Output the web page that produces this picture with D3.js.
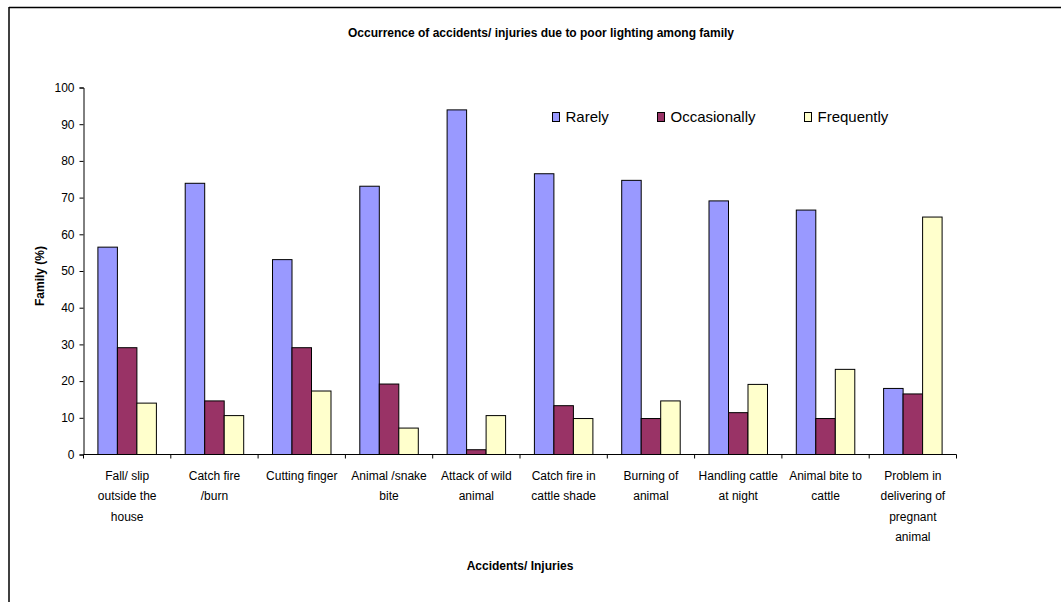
<!DOCTYPE html>
<html><head><meta charset="utf-8">
<script src="https://cdn.jsdelivr.net/npm/d3@7"></script>
<style>
body{margin:0;background:#fff;}
text{font-family:"Liberation Sans Narrow","Liberation Sans",Arial,sans-serif;fill:#000;}
</style></head>
<body>
<svg id="c" width="1061" height="602"></svg>
<script>
const categories = [
  ["Fall/ slip","outside the","house"],
  ["Catch fire","/burn"],
  ["Cutting finger"],
  ["Animal /snake","bite"],
  ["Attack of wild","animal"],
  ["Catch fire in","cattle shade"],
  ["Burning of","animal"],
  ["Handling cattle","at night"],
  ["Animal bite to","cattle"],
  ["Problem in","delivering of","pregnant","animal"]
];
const seriesNames = ["Rarely","Occasionally","Frequently"];
const rarely       = [56.5, 73.9, 53.1, 73.1, 93.9, 76.5, 74.7, 69.1, 66.6, 18.0];
const occasionally = [29.1, 14.6, 29.1, 19.2, 1.3, 13.3, 9.8, 11.4, 9.8, 16.5];
const frequently   = [14.0, 10.6, 17.3, 7.2, 10.6, 9.8, 14.6, 19.1, 23.2, 64.7];
const yTicks = [0,10,20,30,40,50,60,70,80,90,100];
const colors = ["#9999FF","#993366","#FFFFCC"];

(function(){
const svg = d3.select("#c");
svg.append("line").attr("x1",9).attr("x2",1061).attr("y1",7.5).attr("y2",7.5).attr("stroke","#000").attr("stroke-width",1.5);
svg.append("line").attr("x1",9).attr("x2",9).attr("y1",7).attr("y2",602).attr("stroke","#000").attr("stroke-width",1.5);

const pL = 83.5, pR = 956.5, pT = 87.5, pB = 454.5;
const x = d3.scaleBand().domain(d3.range(categories.length)).range([pL,pR]).paddingInner(0.33).paddingOuter(0.165);
const x1 = d3.scaleBand().domain(seriesNames).range([0,x.bandwidth()]);
const y = d3.scaleLinear().domain([0,100]).range([pB,pT]);

svg.append("text").attr("x",541).attr("y",37).attr("text-anchor","middle")
  .style("font-weight","bold").style("font-size","12px")
  .text("Occurrence of accidents/ injuries due to poor lighting among family");

const data = [rarely,occasionally,frequently];
const g = svg.append("g");
data.forEach((vals,si)=>{
  g.selectAll(null).data(vals).enter().append("rect")
    .attr("x",(d,i)=>x(i)+x1(seriesNames[si]))
    .attr("y",d=>y(d))
    .attr("width",x1.bandwidth())
    .attr("height",d=>y(0)-y(d))
    .attr("fill",colors[si]).attr("stroke","#000").attr("stroke-width",1);
});

const ya = svg.append("g").attr("transform",`translate(${pL},0)`)
  .call(d3.axisLeft(y).tickValues(yTicks).tickSize(4).tickPadding(5));
ya.select(".domain").attr("stroke","#000");
ya.selectAll("text").style("font-size","12px").style("font-family",'"Liberation Sans Narrow","Liberation Sans",Arial,sans-serif');

const xa = svg.append("g").attr("transform",`translate(0,${pB})`);
xa.append("line").attr("x1",pL).attr("x2",pR).attr("y1",0).attr("y2",0).attr("stroke","#000");
const step = x.step();
d3.range(categories.length+1).forEach(i=>{
  const xx = pL + i*step;
  xa.append("line").attr("x1",xx).attr("x2",xx).attr("y1",0).attr("y2",4).attr("stroke","#000");
});
categories.forEach((lines,i)=>{
  const t = svg.append("text").attr("text-anchor","middle").style("font-size","12px");
  lines.forEach((ln,k)=>{
    t.append("tspan").attr("x",x(i)+x.bandwidth()/2).attr("y",480+k*20.3).text(ln);
  });
});

svg.append("text").attr("x",(pL+pR)/2).attr("y",570).attr("text-anchor","middle")
  .style("font-weight","bold").style("font-size","12px").text("Accidents/ Injuries");
svg.append("text").attr("transform","translate(44,276) rotate(-90)").attr("text-anchor","middle")
  .style("font-weight","bold").style("font-size","12px").text("Family (%)");

const lx = [552.5,657.5,804.5];
seriesNames.forEach((n,i)=>{
  svg.append("rect").attr("x",lx[i]).attr("y",112.5).attr("width",7).attr("height",9)
    .attr("fill",colors[i]).attr("stroke","#000").attr("stroke-width",1);
  svg.append("text").attr("x",lx[i]+13).attr("y",122).style("font-size","15px").text(n);
});
})();
</script>
</body></html>
